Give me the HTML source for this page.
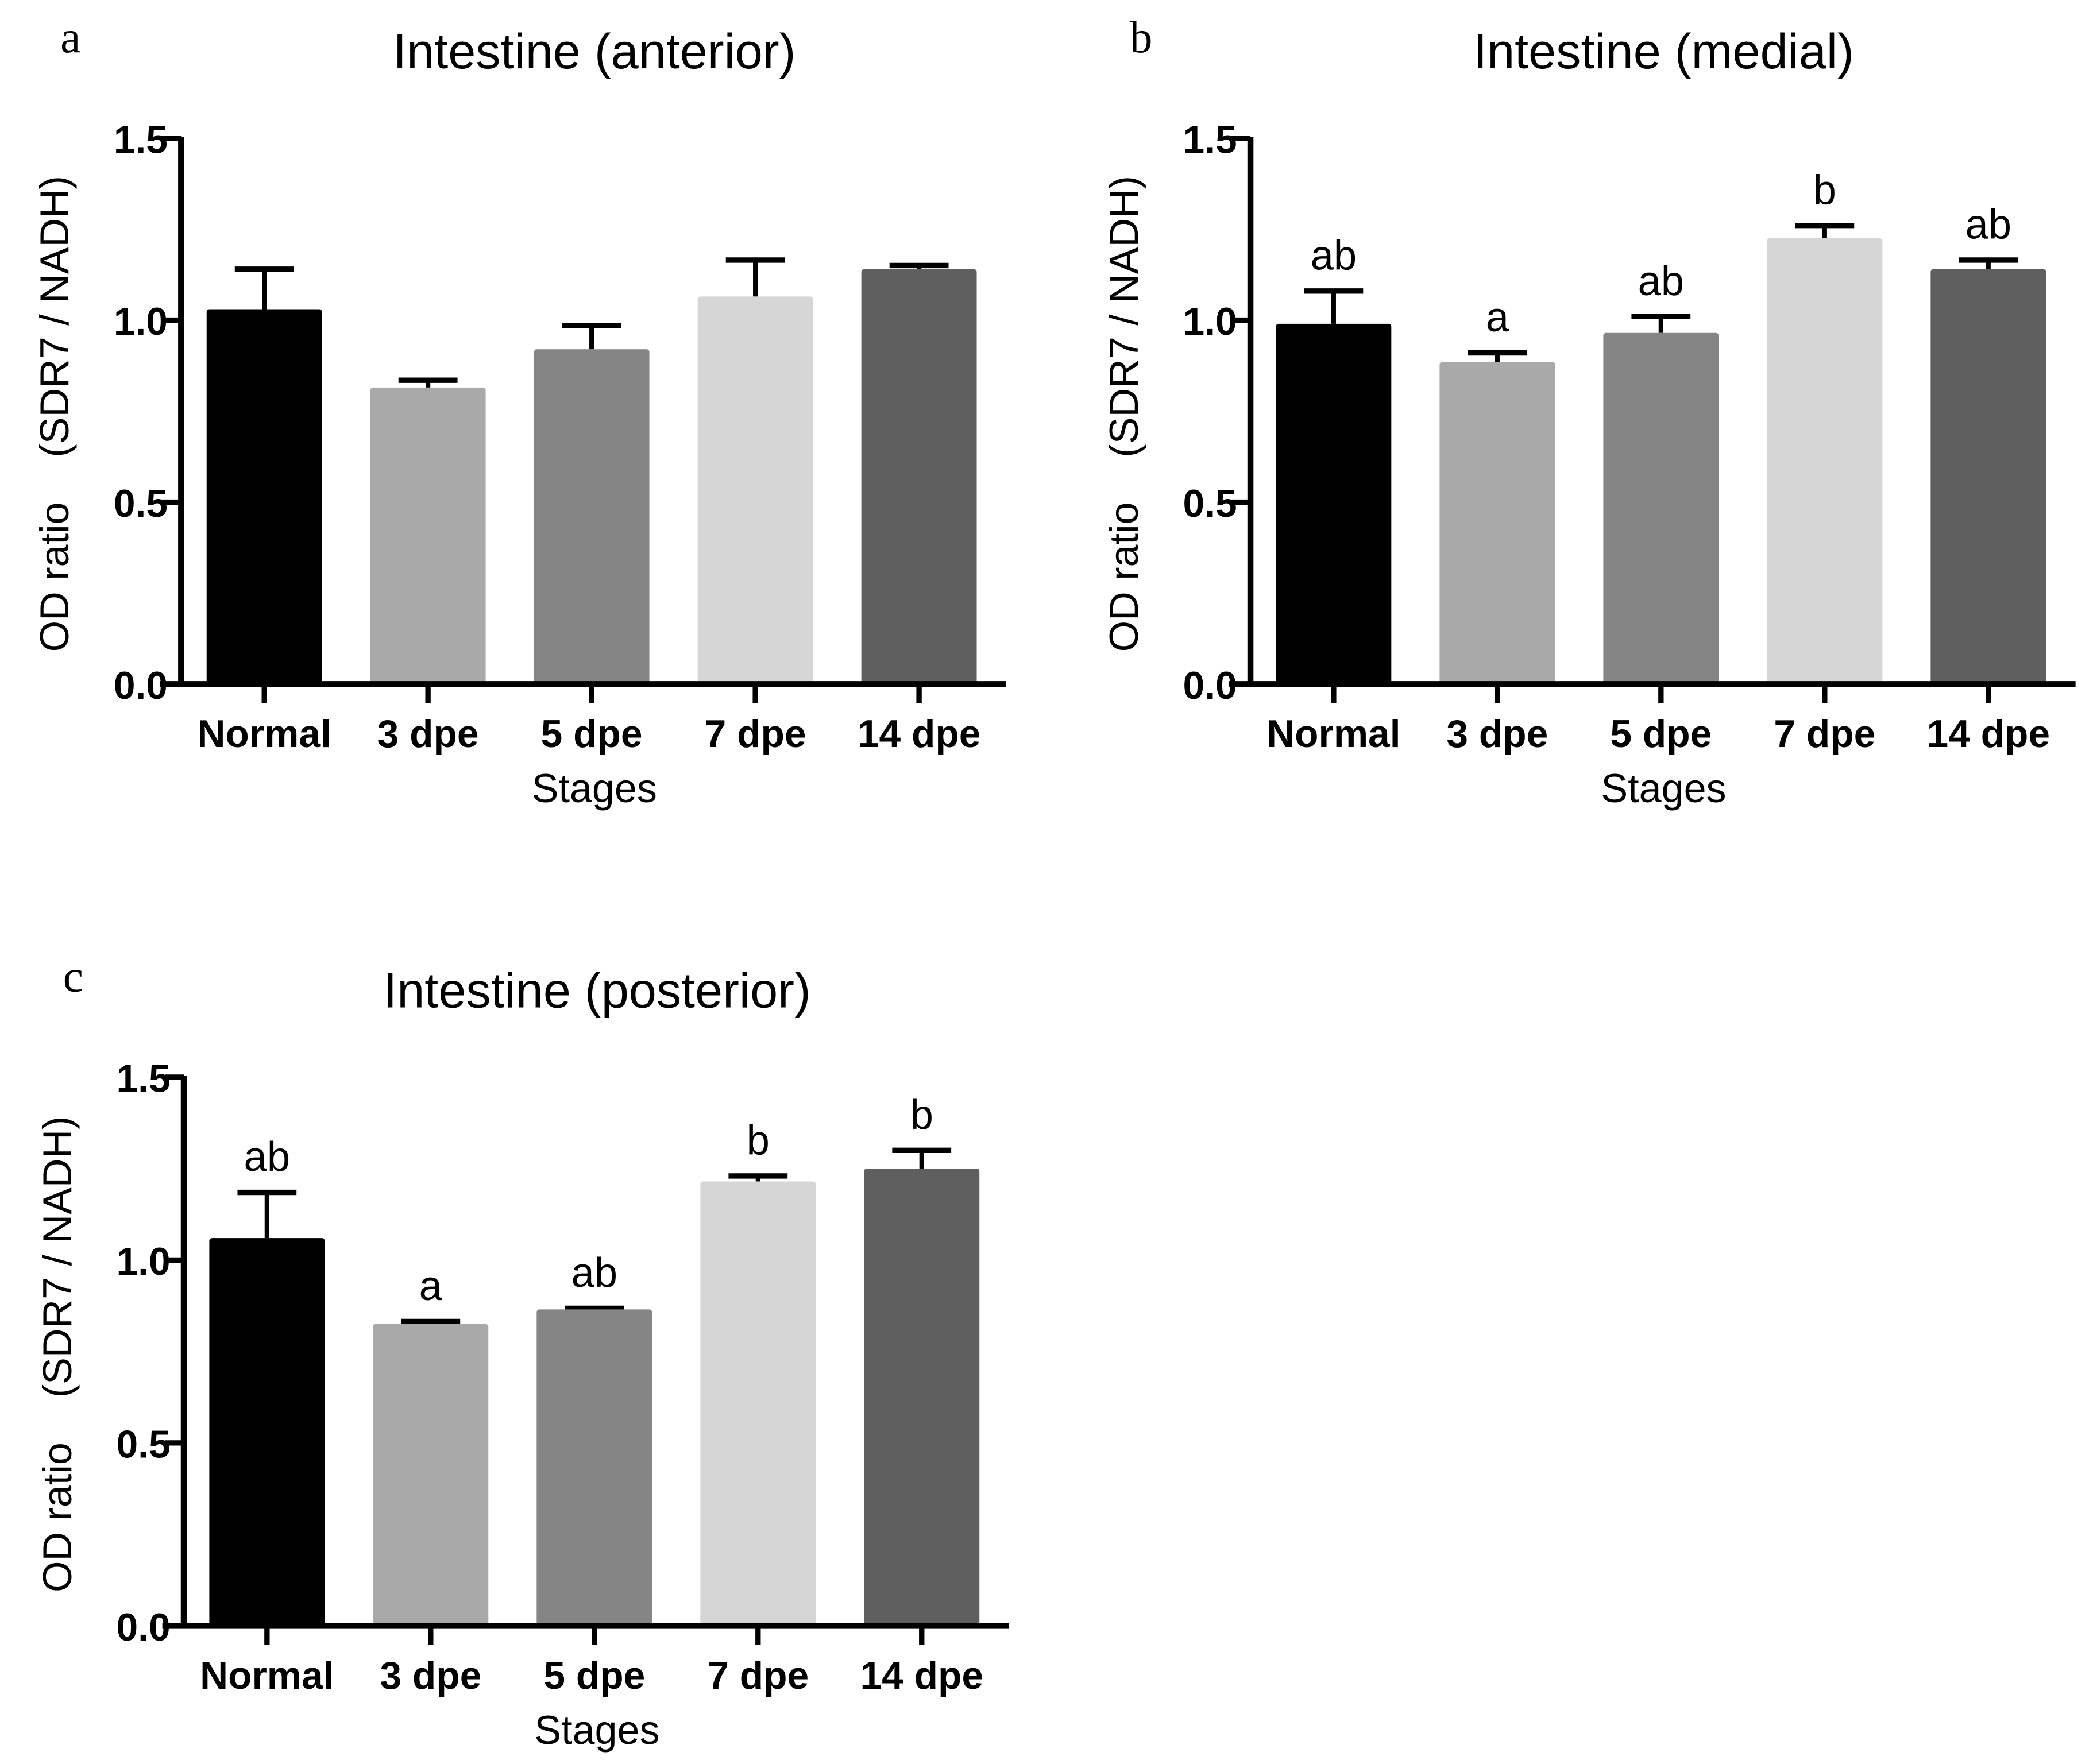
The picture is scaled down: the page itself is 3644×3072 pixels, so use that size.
<!DOCTYPE html>
<html><head><meta charset="utf-8"><style>
html,body{margin:0;padding:0;background:#fff}
svg{display:block}
text{font-family:"Liberation Sans",sans-serif;white-space:pre}
text.serif{font-family:"Liberation Serif",serif}
</style></head><body>
<svg id="fig" width="3644" height="3072" viewBox="0 0 1560 1315" preserveAspectRatio="none" xmlns="http://www.w3.org/2000/svg"></svg>
<script>
const categories = ["Normal","3 dpe","5 dpe","7 dpe","14 dpe"];
const colors = ["#000000","#a9a9a9","#858585","#d6d6d6","#5f5f5f"];
const yTicks = [0.0,0.5,1.0,1.5];
const yTickLabels = ["0.0","0.5","1.0","1.5"];
const valuesA = [1.03,0.815,0.92,1.065,1.14];
const errA = [0.11,0.02,0.065,0.10,0.01];
const lettersA = ["","","","",""];
const valuesB = [0.99,0.885,0.965,1.225,1.14];
const errB = [0.09,0.025,0.045,0.035,0.025];
const lettersB = ["ab","a","ab","b","ab"];
const valuesC = [1.06,0.825,0.865,1.215,1.25];
const errC = [0.125,0.007,0.003,0.015,0.05];
const lettersC = ["ab","a","ab","b","b"];

const svg = document.getElementById('fig');
const NS = "http://www.w3.org/2000/svg";
function mk(tag, attrs, parent){const e=document.createElementNS(NS,tag);for(const k in attrs)e.setAttribute(k,attrs[k]);(parent||svg).appendChild(e);return e;}

function panel(p){
  const g = mk('g',{});
  
  
  const y = v => p.y0 - (v/1.5)*(p.y0-p.y1);
  const pitch = 122;
  const xc = i => p.ax + 62 + i*pitch;
  const bw = 86;
  const pl = mk('text',{x:p.ax-90,y:p.y1-64,'font-size':34,'class':'serif'},g);
  pl.textContent = p.id;
  
  
  const t = mk('text',{x:p.ax+308,y:p.y1-52,'font-size':37,'text-anchor':'middle'},g);
  t.textContent = p.title;
  
  
  p.vals.forEach((v,i)=>{
    const cx = xc(i);
    const top = y(v+p.err[i]);
    const el = mk('line',{x1:cx,x2:cx,y1:y(v),y2:top,stroke:'#000','stroke-width':3.5},g);
    
    
    const cap = mk('line',{x1:cx-22,x2:cx+22,y1:top,y2:top,stroke:'#000','stroke-width':4},g);
    
    
    const r = mk('rect',{x:cx-bw/2,y:y(v),width:bw,height:y(0)-y(v),fill:colors[i],rx:2},g);
    
    
    if(p.letters[i]){
      const lt = mk('text',{x:cx,y:top-16,'font-size':31,'text-anchor':'middle'},g);
      lt.textContent = p.letters[i];
      
      
    }
    const tk = mk('line',{x1:cx,x2:cx,y1:y(0),y2:y(0)+14,stroke:'#000','stroke-width':4},g);
    
    
    const tl = mk('text',{x:cx,y:y(0)+47,'font-size':29,'font-weight':'bold','text-anchor':'middle'},g);
    tl.textContent = categories[i];
    
    
  });
  const ya = mk('line',{x1:p.ax,x2:p.ax,y1:p.y1-1,y2:y(0)+2,stroke:'#000','stroke-width':4.5},g);
  
  
  const xa = mk('line',{x1:p.ax-16,x2:p.ax+615,y1:y(0),y2:y(0),stroke:'#000','stroke-width':4.5},g);
  
  
  yTicks.forEach((v,i)=>{
    const tk = mk('line',{x1:p.ax-14,x2:p.ax,y1:y(v),y2:y(v),stroke:'#000','stroke-width':4},g);
    
    
    const tl = mk('text',{x:p.ax-10,y:y(v)+11,'font-size':29,'font-weight':'bold','text-anchor':'end'},g);
    tl.textContent = yTickLabels[i];
    
    
  });
  const xt = mk('text',{x:p.ax+308,y:y(0)+88,'font-size':30,'text-anchor':'middle'},g);
  xt.textContent = 'Stages';
  
  
  const yt = mk('text',{x:0,y:0,'font-size':30,'text-anchor':'middle',transform:`translate(${p.ax-84},${(p.y0+p.y1)/2+2}) rotate(-90)`},g);
  yt.textContent = 'OD ratio    (SDR7 / NADH)';
  
  
}
panel({id:'a',title:'Intestine (anterior)',ax:135,y0:510,y1:103,vals:valuesA,err:errA,letters:lettersA});
panel({id:'b',title:'Intestine (medial)',ax:932,y0:510,y1:103,vals:valuesB,err:errB,letters:lettersB});
panel({id:'c',title:'Intestine (posterior)',ax:137,y0:1212,y1:803,vals:valuesC,err:errC,letters:lettersC});
</script>
</body></html>
